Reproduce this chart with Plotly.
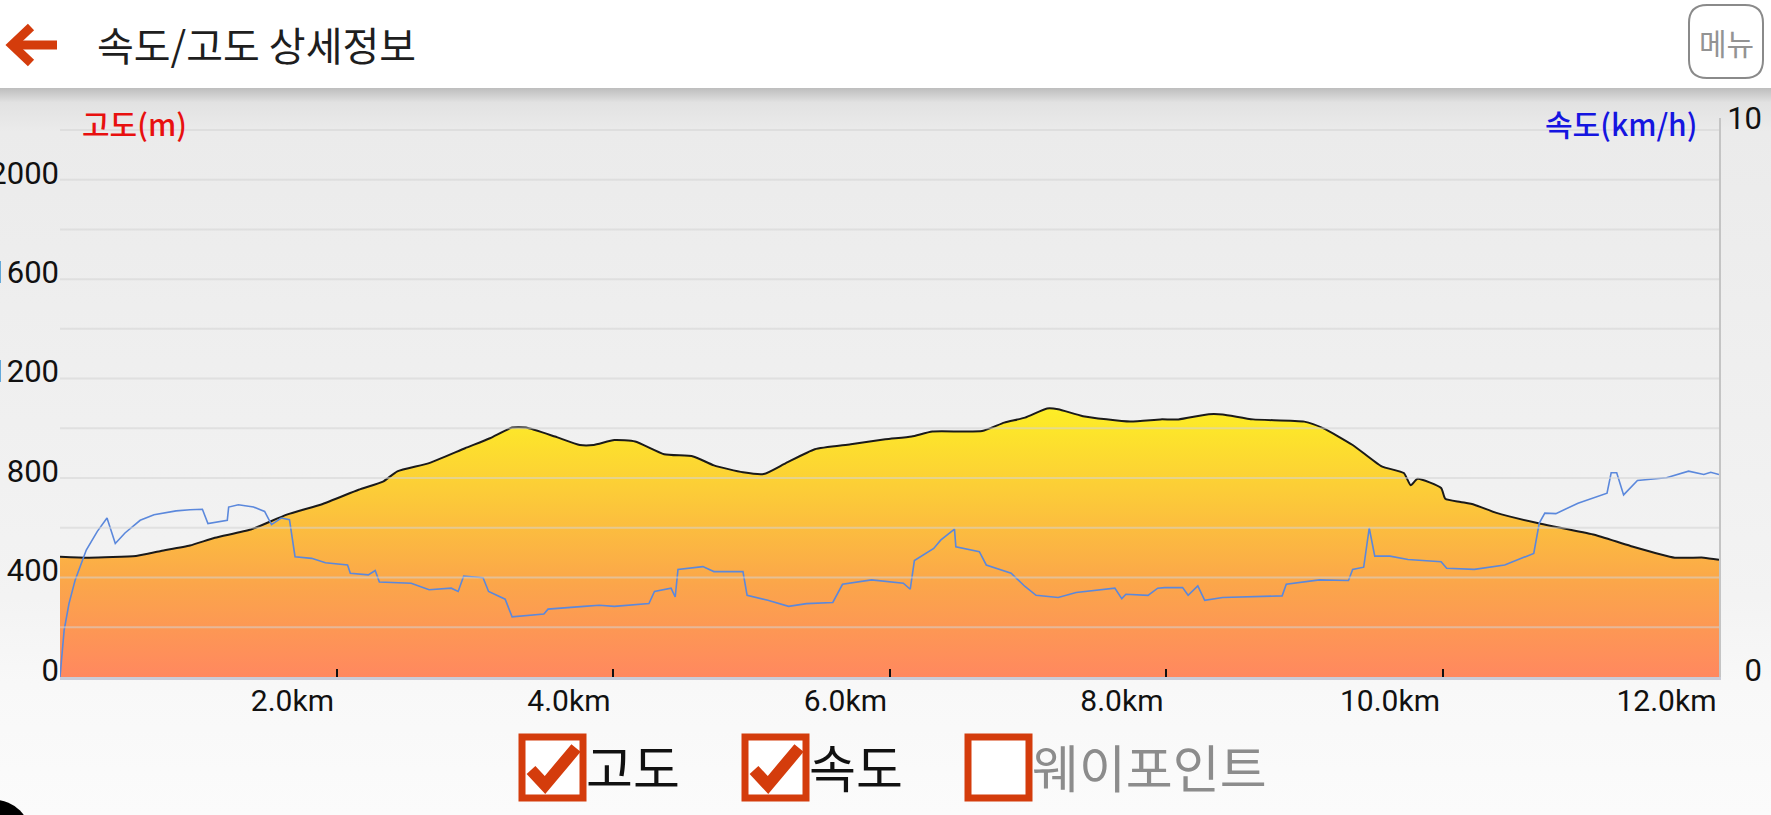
"""
plot.py

* Recreates the speed / altitude detail screen with plotly
"""

import base64

import plotly.graph_objects as go

# distance (km) and altitude (m) of the track
elev_km = [0.00, 0.21, 0.55, 0.73, 0.94, 1.12, 1.38, 1.64, 1.90, 2.16, 2.34, 2.44, 2.67, 2.93,
           3.11, 3.27, 3.37, 3.58, 3.76, 3.86, 4.01, 4.16, 4.37, 4.58, 4.73, 4.94, 5.09, 5.25,
           5.46, 5.72, 5.97, 6.16, 6.31, 6.67, 6.83, 6.98, 7.14, 7.22, 7.40, 7.74, 7.96, 8.09,
           8.31, 8.41, 8.63, 9.00, 9.14, 9.35, 9.56, 9.72, 9.77, 9.82, 9.99, 10.02, 10.13,
           10.23, 10.39, 10.71, 11.09, 11.36, 11.68, 11.89, 12.00]
elev_m = [484, 480, 487, 507, 529, 560, 593, 653, 696, 753, 787, 827, 860, 920,
          960, 1003, 1003, 967, 933, 933, 953, 947, 896, 887, 851, 823, 816, 860,
          916, 936, 956, 967, 987, 989, 1023, 1043, 1080, 1077, 1049, 1027, 1036, 1036,
          1057, 1056, 1036, 1027, 1000, 933, 847, 820, 771, 797, 760, 717, 704,
          693, 660, 616, 573, 527, 480, 480, 471]

# distance (km) and speed (km/h)
speed_km = [0.00, 0.03, 0.065, 0.11, 0.19, 0.27, 0.34, 0.37, 0.40, 0.47, 0.58, 0.68, 0.84, 0.94,
            1.03, 1.07, 1.21, 1.22, 1.29, 1.40, 1.48, 1.53, 1.60, 1.66, 1.70, 1.82, 1.92, 2.08,
            2.10, 2.23, 2.28, 2.31, 2.54, 2.67, 2.83, 2.88, 2.92, 3.06, 3.10, 3.22, 3.27, 3.50,
            3.53, 3.79, 3.90, 4.01, 4.26, 4.30, 4.42, 4.45, 4.47, 4.65, 4.73, 4.94, 4.97, 5.12,
            5.27, 5.40, 5.59, 5.66, 5.87, 6.10, 6.15, 6.18, 6.32, 6.37, 6.47, 6.48, 6.65, 6.70,
            6.88, 6.98, 7.06, 7.22, 7.35, 7.63, 7.68, 7.71, 7.87, 7.94, 7.99, 8.12, 8.16, 8.23,
            8.28, 8.41, 8.84, 8.87, 9.11, 9.32, 9.35, 9.43, 9.47, 9.51, 9.62, 9.75, 9.99, 10.03,
            10.23, 10.45, 10.66, 10.70, 10.74, 10.82, 10.98, 11.19, 11.22, 11.26, 11.31, 11.41,
            11.62, 11.78, 11.89, 11.94, 12.00]
speed_kmh = [0.0, 0.85, 1.33, 1.76, 2.30, 2.64, 2.88, 2.67, 2.42, 2.61, 2.84, 2.94, 3.01, 3.03,
             3.04, 2.78, 2.84, 3.08, 3.12, 3.08, 3.00, 2.76, 2.88, 2.85, 2.18, 2.15, 2.07, 2.03,
             1.88, 1.85, 1.93, 1.72, 1.70, 1.58, 1.61, 1.55, 1.83, 1.80, 1.55, 1.41, 1.09, 1.14,
             1.23, 1.28, 1.30, 1.28, 1.33, 1.55, 1.61, 1.45, 1.95, 2.00, 1.91, 1.91, 1.48, 1.39,
             1.28, 1.33, 1.35, 1.68, 1.76, 1.70, 1.59, 2.11, 2.33, 2.48, 2.68, 2.36, 2.27, 2.03,
             1.88, 1.64, 1.48, 1.44, 1.53, 1.61, 1.42, 1.50, 1.48, 1.61, 1.62, 1.62, 1.48, 1.65,
             1.39, 1.44, 1.47, 1.68, 1.76, 1.75, 1.95, 1.99, 2.70, 2.19, 2.19, 2.13, 2.09, 1.97,
             1.95, 2.03, 2.24, 2.79, 2.97, 2.96, 3.15, 3.33, 3.70, 3.70, 3.30, 3.56,
             3.61, 3.73, 3.67, 3.71, 3.67]

# axis ticks
x_tickvals = [2, 4, 6, 8, 10, 12]
x_ticktext = ["2.0km", "4.0km", "6.0km", "8.0km", "10.0km", "12.0km"]
elev_tickvals = [0, 200, 400, 600, 800, 1000, 1200, 1400, 1600, 1800, 2000, 2200]
elev_ticktext = ["0", "", "400", "", "800", "", "1200", "", "1600", "", "2000", ""]
speed_tickvals = [0, 10]
speed_ticktext = ["\u20070", "10"]   # figure space keeps the 0 right aligned under 10

# check boxes under the chart
legend_items = ["고도", "속도", "웨이포인트"]
legend_checked = [True, True, False]

# page geometry (pixels)
W, H = 1771, 815
L, R, T, B = 60, 1719, 118, 677

ORANGE = "#d43c0c"
KR = "Noto Sans CJK KR"


def px(x):
    """pixel x -> paper x"""
    return (x - L) / (R - L)


def py(y):
    """pixel y -> paper y"""
    return (B - y) / (B - T)


# background gradient for everything below the header
svg = (
    '<svg xmlns="http://www.w3.org/2000/svg" width="100" height="100" viewBox="0 0 100 100" '
    'preserveAspectRatio="none"><defs><linearGradient id="g" x1="0" y1="0" x2="0" y2="1">'
    '<stop offset="0" stop-color="#bdbdbd"/><stop offset="0.02" stop-color="#e2e2e2"/>'
    '<stop offset="0.06" stop-color="#ebebeb"/><stop offset="0.7" stop-color="#f3f3f3"/>'
    '<stop offset="0.82" stop-color="#f8f8f8"/><stop offset="1" stop-color="#fbfbfb"/>'
    '</linearGradient></defs><rect width="100" height="100" fill="url(#g)"/></svg>'
)
bg_src = "data:image/svg+xml;base64," + base64.b64encode(svg.encode()).decode()

fig = go.Figure()

# altitude area
fig.add_trace(go.Scatter(
    x=elev_km, y=elev_m, mode="lines", fill="tozeroy",
    line=dict(color="#1a1a1a", width=2, shape="spline", smoothing=0.5),
    fillgradient=dict(type="vertical", start=0, stop=1080,
                      colorscale=[[0, "#ff885f"], [0.35, "#fba64a"],
                                  [0.7, "#fccd37"], [1, "#fdee26"]]),
    name="고도", showlegend=False,
))

# speed line
fig.add_trace(go.Scatter(
    x=speed_km, y=speed_kmh, mode="lines", yaxis="y2",
    line=dict(color="#5b88dc", width=1.6),
    name="속도", showlegend=False,
))

shapes = []

# grid lines drawn over the area
for v in elev_tickvals[1:]:
    shapes.append(dict(type="line", xref="paper", yref="y", x0=0, x1=1, y0=v, y1=v,
                       line=dict(color="rgba(212,212,212,0.55)", width=2), layer="above"))

# back arrow
shapes.append(dict(type="path", xref="paper", yref="paper",
                   path=f"M{px(31)},{py(27)} L{px(12)},{py(45)} L{px(31)},{py(63)}",
                   line=dict(color=ORANGE, width=9)))
shapes.append(dict(type="line", xref="paper", yref="paper", x0=px(14), x1=px(57),
                   y0=py(45), y1=py(45), line=dict(color=ORANGE, width=9)))

# menu button
x0, x1, y0, y1, r = 1689, 1763, 5, 78, 18
shapes.append(dict(
    type="path", xref="paper", yref="paper",
    path=(f"M{px(x0 + r)},{py(y0)} L{px(x1 - r)},{py(y0)} Q{px(x1)},{py(y0)} {px(x1)},{py(y0 + r)} "
          f"L{px(x1)},{py(y1 - r)} Q{px(x1)},{py(y1)} {px(x1 - r)},{py(y1)} "
          f"L{px(x0 + r)},{py(y1)} Q{px(x0)},{py(y1)} {px(x0)},{py(y1 - r)} "
          f"L{px(x0)},{py(y0 + r)} Q{px(x0)},{py(y0)} {px(x0 + r)},{py(y0)} Z"),
    line=dict(color="#8a8a8a", width=2), fillcolor="white"))

# phone corner at the bottom left
shapes.append(dict(type="circle", xref="paper", yref="paper", x0=px(-40), x1=px(30),
                   y0=py(870), y1=py(800), fillcolor="black", line=dict(width=0)))

annotations = [
    dict(text="속도/고도 상세정보", x=px(95), y=py(44), xanchor="left", yanchor="middle",
         font=dict(family=KR, size=40, color="#1e1e1e")),
    dict(text="메뉴", x=px(1726), y=py(42), xanchor="center", yanchor="middle",
         font=dict(family=KR, size=30, color="#939393")),
    dict(text="고도(m)", x=px(80), y=py(123), xanchor="left", yanchor="middle",
         font=dict(family=KR, size=30, color="#e8100f", weight=500)),
    dict(text="속도(km/h)", x=px(1699), y=py(123), xanchor="right", yanchor="middle",
         font=dict(family=KR, size=30, color="#1515e0", weight=500)),
]

# check boxes with their labels
box_x = [520, 743, 966]
for bx, label, checked in zip(box_x, legend_items, legend_checked):
    shapes.append(dict(type="rect", xref="paper", yref="paper", x0=px(bx + 2), x1=px(bx + 63),
                       y0=py(798), y1=py(737), line=dict(color=ORANGE, width=7),
                       fillcolor="white"))
    if checked:
        shapes.append(dict(type="path", xref="paper", yref="paper",
                           path=(f"M{px(bx + 11)},{py(770)} L{px(bx + 25)},{py(785)} "
                                 f"L{px(bx + 56)},{py(748)}"),
                           line=dict(color=ORANGE, width=12)))
    annotations.append(dict(text=label, x=px(bx + 64), y=py(766), xanchor="left",
                            yanchor="middle",
                            font=dict(family=KR, size=51,
                                      color="#111111" if checked else "#8c8c8c")))

for a in annotations:
    a.update(xref="paper", yref="paper", showarrow=False)

fig.update_layout(
    template="none",
    width=W, height=H,
    margin=dict(l=L, r=W - R, t=T, b=H - B, pad=0, autoexpand=False),
    paper_bgcolor="white",
    plot_bgcolor="rgba(0,0,0,0)",
    font=dict(family="Roboto", color="#111111"),
    showlegend=False,
    shapes=shapes,
    annotations=annotations,
    images=[dict(source=bg_src, xref="paper", yref="paper", x=px(0), y=py(88),
                 sizex=W / (R - L), sizey=(H - 88) / (B - T), xanchor="left",
                 yanchor="top", sizing="stretch", layer="below")],
    xaxis=dict(
        range=[0, 12], tickvals=x_tickvals, ticktext=x_ticktext,
        ticks="inside", ticklen=8, tickwidth=2, tickcolor="#111111",
        ticklabelposition="outside left", ticklabelstandoff=-5,
        tickfont=dict(size=30, color="#111111"),
        showgrid=False, zeroline=False, automargin=False,
        showline=True, linecolor="#c9ccd8", linewidth=3,
    ),
    yaxis=dict(
        range=[0, 2248], tickvals=elev_tickvals, ticktext=elev_ticktext,
        ticks="", ticklabelstandoff=0, ticklabelshift=-7,
        tickfont=dict(size=31, color="#111111"),
        showgrid=False, zeroline=False, automargin=False, showline=False,
    ),
    yaxis2=dict(
        range=[0, 10.13], tickvals=speed_tickvals, ticktext=speed_ticktext,
        overlaying="y", side="right",
        ticks="", ticklabelstandoff=0, ticklabelshift=-7,
        tickfont=dict(size=31, color="#111111"),
        showgrid=False, zeroline=False, automargin=False,
        showline=True, linecolor="#c4c4c4", linewidth=2,
    ),
)

# the page gets no body margin so the figure sits flush in the window
fig.write_html("out.html", config={"displayModeBar": False},
               post_script="document.body.style.margin = '0px';")
